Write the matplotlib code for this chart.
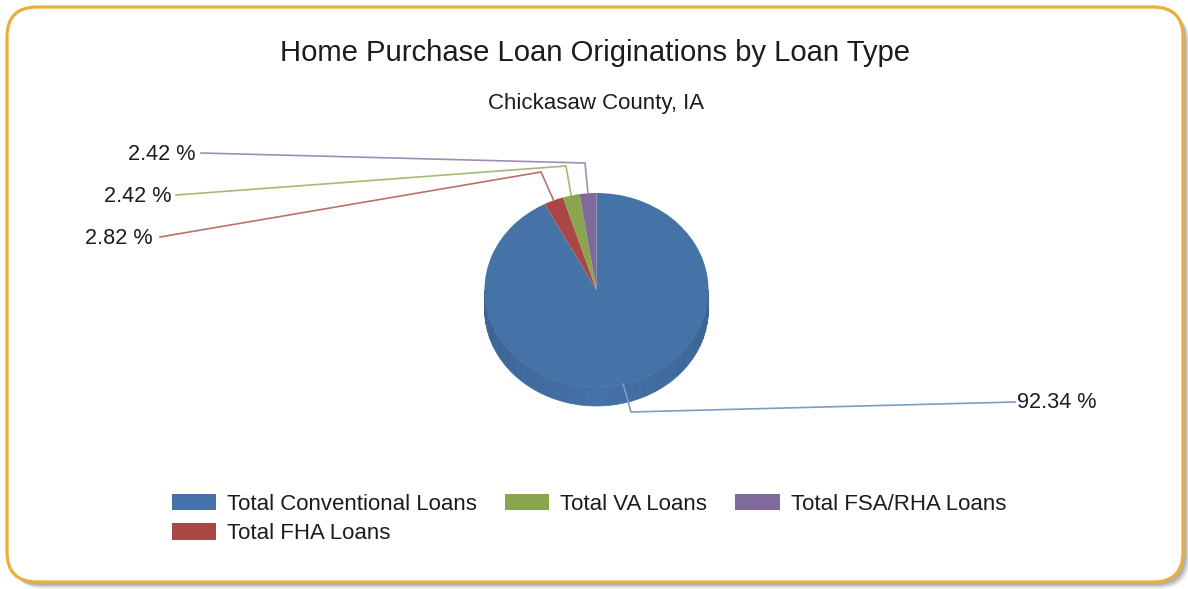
import numpy as np
import matplotlib
matplotlib.use("Agg")
import matplotlib.pyplot as plt
from matplotlib.patches import FancyBboxPatch, Polygon, Patch

title = "Home Purchase Loan Originations by Loan Type"
subtitle = "Chickasaw County, IA"
categories = ["Total Conventional Loans", "Total FHA Loans", "Total VA Loans", "Total FSA/RHA Loans"]
values = [92.34, 2.82, 2.42, 2.42]
colors = ["#4572A7", "#AA4643", "#89A54E", "#80699B"]
line_colors = ["#7C9CC4", "#BE6F6C", "#A3BA72", "#A08DB6"]
label_text = ["92.34 %", "2.82 %", "2.42 %", "2.42 %"]

W, H = 1188, 589
FONT = "Liberation Sans"
fig = plt.figure(figsize=(W / 100, H / 100), dpi=100, facecolor="white")

page = fig.add_axes([0, 0, 1, 1])
page.set_xlim(0, W)
page.set_ylim(H, 0)
page.axis("off")

# card shadow and border
for off, a in [(7, .07), (6, .10), (5, .14), (4, .18), (3, .2)]:
    page.add_patch(FancyBboxPatch((7 + 30 + off, 7 + 30 + off), 1176 - 60, 575 - 60,
                                  boxstyle="round,pad=30,rounding_size=30",
                                  fc="#707070", ec="none", alpha=a, zorder=1))
page.add_patch(FancyBboxPatch((7 + 30, 7 + 30), 1176 - 60, 575 - 60,
                              boxstyle="round,pad=30,rounding_size=30",
                              fc="white", ec="#EBAE3A", lw=2.3, zorder=2))

page.text(594.5, 53, title, ha="center", va="center", fontsize=21.1, family=FONT, color="#1c1c1c", zorder=5)
page.text(596.5, 104, subtitle, ha="center", va="center", fontsize=16, family=FONT, color="#1c1c1c", zorder=5)

# pie: an elliptical plot area, 224 x 194 px, centred on (596.5, 290)
cx, cy, rx, ry, depth = 596.5, 290, 112, 97, 19
pie_ax = fig.add_axes([(cx - rx) / W, 1 - (cy + ry) / H, 2 * rx / W, 2 * ry / H], zorder=2)
pie_ax.patch.set_alpha(0)
d = depth / ry

# side wall of the pie, shaded in strips
edges = np.linspace(np.pi, 2 * np.pi, 41)
for a0, a1 in zip(edges[:-1], edges[1:]):
    t = np.linspace(a0, a1, 6)
    mid = abs((a0 + a1) / 2 - 1.5 * np.pi) / (np.pi / 2)
    c = np.array([0x44, 0x71, 0xA6]) * (1 - mid) + np.array([0x3A, 0x62, 0x92]) * mid
    xs, ys = np.cos(t), np.sin(t)
    pts = np.r_[np.c_[xs, ys - d], np.c_[xs[::-1], ys[::-1]]]
    pie_ax.add_patch(Polygon(pts, closed=True, fc=c / 255, ec=c / 255, lw=.5, clip_on=False))

wedges, _ = pie_ax.pie(values, colors=colors, startangle=90, counterclock=False, radius=1,
                       wedgeprops=dict(linewidth=0))
for w in wedges:
    w.set_clip_on(False)
pie_ax.set_aspect("auto")
pie_ax.set_xlim(-1, 1)
pie_ax.set_ylim(-1, 1)
pie_ax.axis("off")

# leader lines run over the pie, so they sit on an overlay axes
over = fig.add_axes([0, 0, 1, 1], zorder=3)
over.set_xlim(0, W)
over.set_ylim(H, 0)
over.axis("off")

# leader lines: label end, elbow, then the slice rim at its middle angle
leaders = [((1015, 402), (631, 412)), ((160, 237), (541, 172)), ((176, 195), (566, 166)), ((201, 153), (585, 163))]
label_anchor = [(1017, 403), (153, 238), (171, 196), (195, 155)]
for w, lc, (outer, elbow), lab, anc in zip(wedges, line_colors, leaders, label_text, label_anchor):
    mid = np.deg2rad((w.theta1 + w.theta2) / 2)
    ex = cx + rx * np.cos(mid)
    ey = cy - ry * np.sin(mid)
    over.plot([outer[0], elbow[0], ex], [outer[1], elbow[1], ey], color=lc, lw=1.2,
              solid_joinstyle="miter")
    over.text(anc[0], anc[1], lab, ha="left" if anc[0] > 600 else "right", va="center",
              fontsize=15.6, family=FONT, color="#1c1c1c")

handles = [Patch(fc=c, ec="none", label=n) for c, n in zip(colors, categories)]
leg = over.legend(handles=handles, ncol=3, frameon=False, loc="upper left",
                  bbox_to_anchor=(165 / W, 1 - 487 / H), bbox_transform=fig.transFigure,
                  prop=dict(family=FONT, size=16), labelcolor="#1c1c1c",
                  handlelength=2.0, handleheight=.75, handletextpad=.5, columnspacing=1.25,
                  labelspacing=.39, borderpad=.3, borderaxespad=0)

fig.savefig("out.png", dpi=100)
